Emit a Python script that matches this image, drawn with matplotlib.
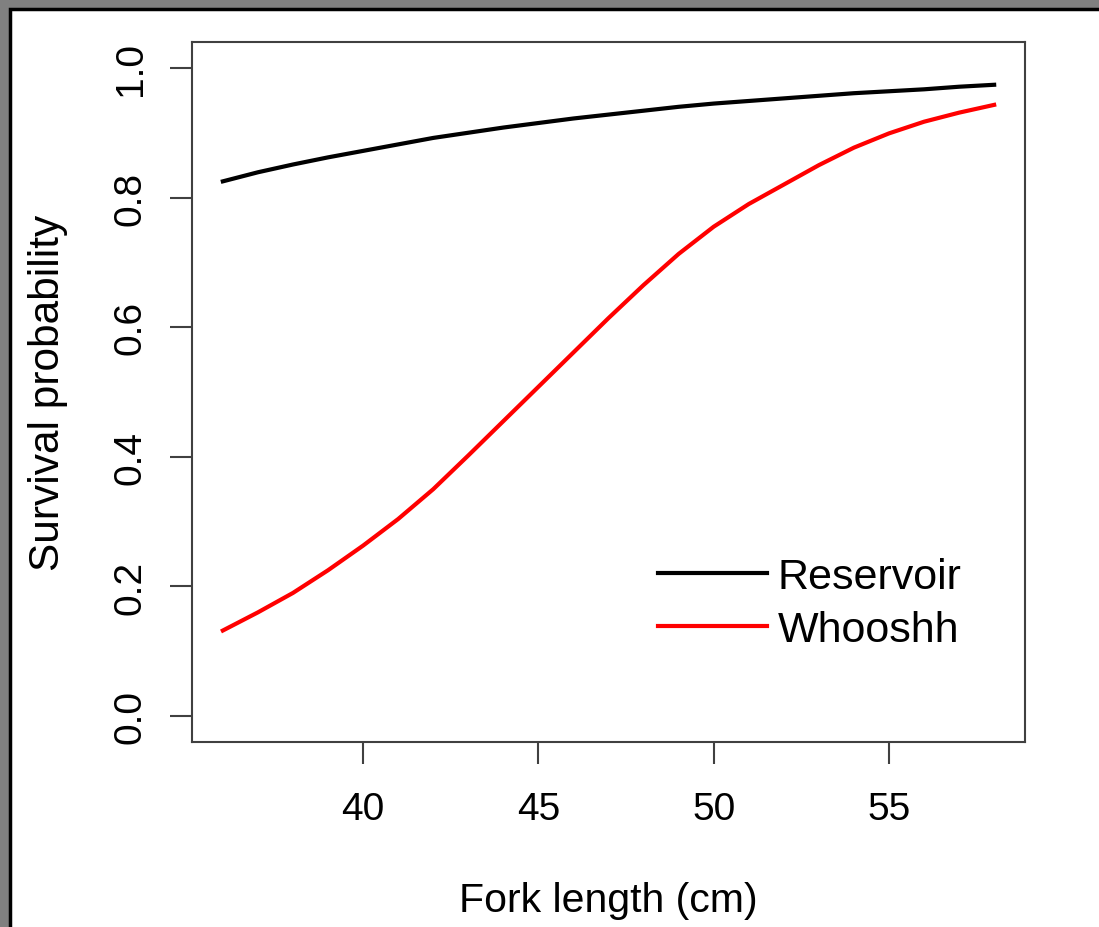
import matplotlib.pyplot as plt
from matplotlib.patches import Rectangle

# values (fork length in cm)
fork_length = [36, 37, 38, 39, 40, 41, 42, 43, 44, 45, 46, 47,
               48, 49, 50, 51, 52, 53, 54, 55, 56, 57, 58]
reservoir = [0.825, 0.839, 0.851, 0.862, 0.872, 0.882, 0.892, 0.900,
             0.908, 0.915, 0.922, 0.928, 0.934, 0.940, 0.945, 0.949,
             0.953, 0.957, 0.961, 0.964, 0.967, 0.971, 0.974]
whooshh = [0.132, 0.160, 0.190, 0.225, 0.263, 0.304, 0.350, 0.402,
           0.455, 0.508, 0.561, 0.614, 0.665, 0.713, 0.755, 0.790,
           0.820, 0.850, 0.877, 0.899, 0.917, 0.931, 0.943]

x_ticks = [40, 45, 50, 55]
y_ticks = [0.0, 0.2, 0.4, 0.6, 0.8, 1.0]

plt.rcParams['font.family'] = ['Liberation Sans', 'DejaVu Sans']

fig = plt.figure(figsize=(10.99, 9.28), dpi=100, facecolor='#808080')
# white slide panel with black outline, kept behind the axes
fig.patches.append(Rectangle((10 / 1099, -0.01), 1.0, 1.01 - 10 / 928,
                             transform=fig.transFigure, facecolor='white',
                             edgecolor='black', linewidth=2.5, zorder=-5))

ax = fig.add_axes([192 / 1099, 1 - 743 / 928, 833 / 1099, 700 / 928])
ax.set_zorder(2)
ax.set_facecolor('white')

ax.plot(fork_length, reservoir, color='black', lw=3, label='Reservoir')
ax.plot(fork_length, whooshh, color='red', lw=3, label='Whooshh')

ax.set_xlim(35.12, 58.88)
ax.set_ylim(-0.04, 1.04)
ax.set_xticks(x_ticks)
ax.set_yticks(y_ticks)
ax.set_yticklabels(['%.1f' % v for v in y_ticks], rotation=90, va='center')

for s in ax.spines.values():
    s.set_color('#404040')
    s.set_linewidth(1.5)
ax.tick_params(direction='out', length=16, width=1.5, color='#404040',
               labelsize=28, pad=19)
ax.tick_params(axis='y', pad=15)

ax.set_xlabel('Fork length (cm)', fontsize=29.5, labelpad=39)
ax.set_ylabel('Survival probability', fontsize=30.5, labelpad=32)

ax.legend(loc='center left', bbox_to_anchor=(0.559, 0.198), frameon=False,
          fontsize=31, handlelength=2.53, handletextpad=0.26,
          labelspacing=0.3, borderpad=0, borderaxespad=0)

fig.savefig('out.png', dpi=100, facecolor=fig.get_facecolor())
